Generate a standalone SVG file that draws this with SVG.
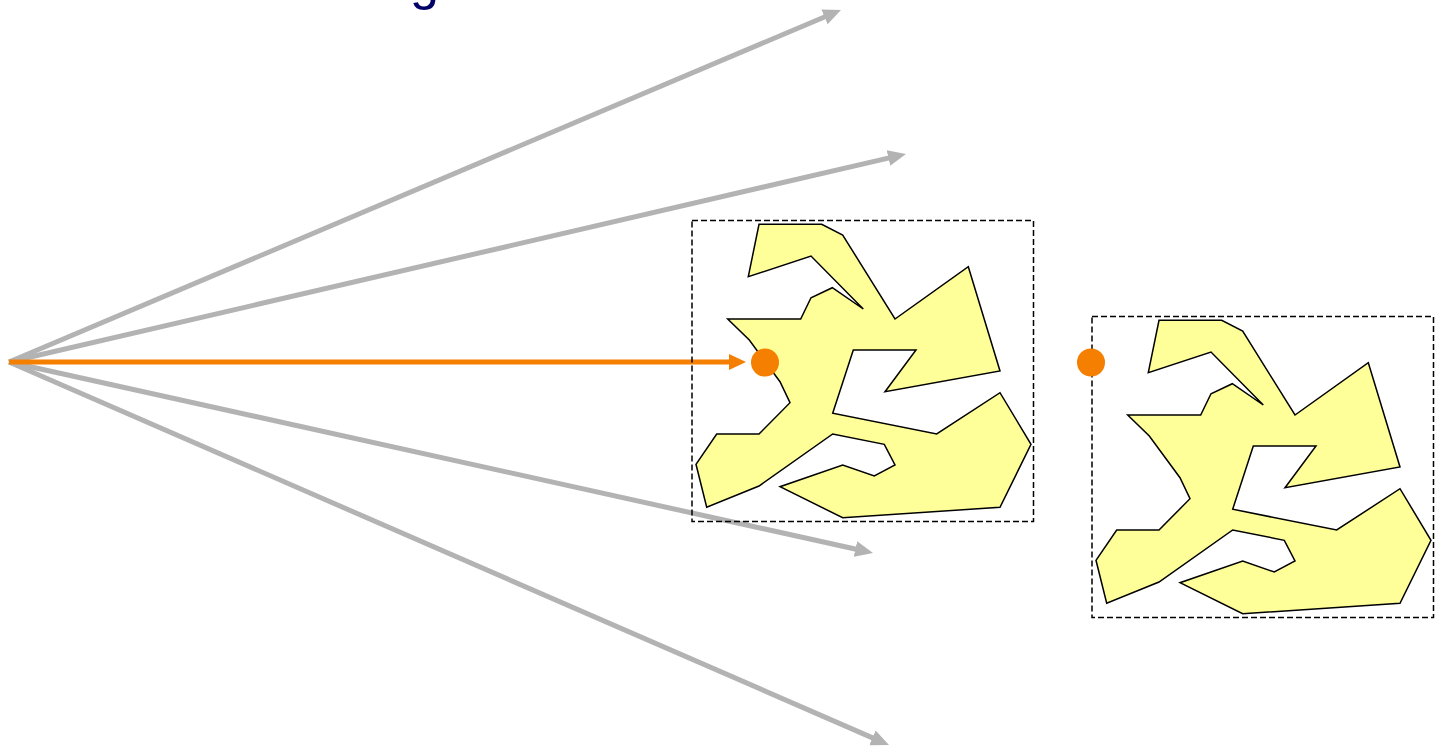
<svg xmlns="http://www.w3.org/2000/svg" width="1441" height="749" viewBox="0 0 1441 749">
<style>
.gray{stroke:#B3B3B3;stroke-width:5;fill:none}
.orange{stroke:#F57F00;stroke-width:5;fill:none}
.box{fill:none;stroke:#000;stroke-width:1.5;stroke-dasharray:6 3}
.blob{fill:#FFFF99;stroke:#000;stroke-width:1.5;stroke-linejoin:miter}
.dot{fill:#F57F00}
</style>
<defs>
<marker id="ag" markerUnits="userSpaceOnUse" markerWidth="20" markerHeight="18" viewBox="0 -9 20 18" refX="2" refY="0" orient="auto"><path d="M0,-8 L18,0 L0,8 z" fill="#B3B3B3"/></marker>
<marker id="ao" markerUnits="userSpaceOnUse" markerWidth="20" markerHeight="18" viewBox="0 -9 20 18" refX="2" refY="0" orient="auto"><path d="M0,-8 L17,0 L0,8 z" fill="#F57F00"/></marker>
<polygon id="shape" points="759,224.3 821.7,224.3 842.7,235 895,319 968.3,266.7 1000,371 885,391.7 916,350 853.3,350 832.7,413.3 936.7,434 1000,392.7 1031,444.3 1000,507.3 842.7,517.7 780,486.7 842.7,465 874.3,476 895,465 884.3,444.3 832.7,434 759,486 706.7,507.3 696,464.3 716.7,434 759,434 790,402.7 780,381.7 749.3,340 727.7,319 800.7,319 811,297.7 832.3,287.7 863.3,309 811,256 748.3,276.7"/>
</defs>
<text x="410" y="-1" font-family="Liberation Sans, Arial, sans-serif" font-size="52" fill="#000066">g</text>
<g id="connectors">
<line class="gray" x1="9" y1="362" x2="826.3" y2="16.2" marker-end="url(#ag)"/>
<line class="gray" x1="9" y1="362" x2="890.4" y2="157.6" marker-end="url(#ag)"/>
<line class="gray" x1="9" y1="362" x2="857.4" y2="549.5" marker-end="url(#ag)"/>
<line class="gray" x1="9" y1="362" x2="874.3" y2="738.6" marker-end="url(#ag)"/>
<line class="orange" x1="9" y1="362" x2="731" y2="362" marker-end="url(#ao)"/>
</g>
<g id="shape1">
<rect class="box" x="692" y="220.5" width="341.5" height="301"/>
<use href="#shape" class="blob"/>
</g>
<g id="shape2">
<rect class="box" x="1092" y="316.5" width="341.5" height="301"/>
<use href="#shape" class="blob" transform="translate(400,96)"/>
</g>
<g id="dot1"><circle class="dot" cx="765" cy="362.5" r="14"/></g>
<g id="dot2"><circle class="dot" cx="1091" cy="362.5" r="14"/></g>
</svg>
